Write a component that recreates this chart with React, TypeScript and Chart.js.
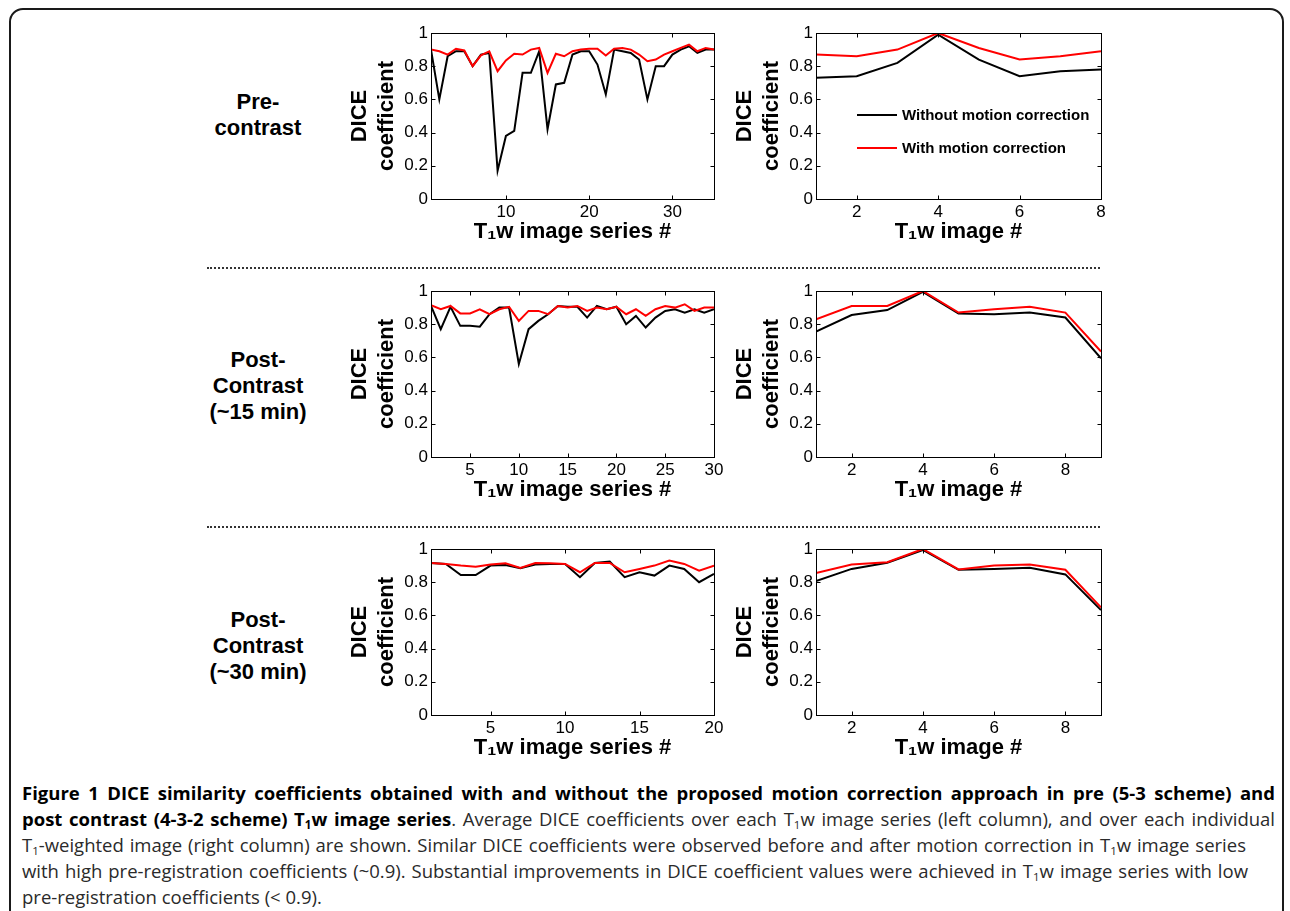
import React, { useEffect, useRef } from 'react';
import { Chart, registerables } from 'chart.js';

Chart.register(...registerables);

// ---------------- data ----------------
const SERIES_LABELS = ['Without motion correction', 'With motion correction'];
const SERIES_COLORS = ['#000000', '#ff0000'];
const Y_TICK_VALUES = [0, 0.2, 0.4, 0.6, 0.8, 1];
const Y_TICK_LABELS = ['0', '0.2', '0.4', '0.6', '0.8', '1'];
const Y_TITLE = ['DICE', 'coefficient'];
const X_TITLE_SERIES = 'T\u2081w image series #';
const X_TITLE_IMAGE = 'T\u2081w image #';

// Pre-contrast, per T1w image series (35 series)
const preSeriesWithout = [
  0.90, 0.60, 0.86, 0.89, 0.89, 0.80, 0.87, 0.88, 0.17, 0.38,
  0.41, 0.76, 0.76, 0.89, 0.42, 0.69, 0.70, 0.87, 0.89, 0.89,
  0.81, 0.63, 0.90, 0.89, 0.88, 0.84, 0.60, 0.80, 0.80, 0.87,
  0.90, 0.92, 0.88, 0.90, 0.90,
];
const preSeriesWith = [
  0.90, 0.89, 0.87, 0.905, 0.895, 0.80, 0.865, 0.89, 0.77, 0.835,
  0.875, 0.87, 0.90, 0.91, 0.76, 0.875, 0.86, 0.89, 0.90, 0.905,
  0.905, 0.865, 0.905, 0.91, 0.90, 0.87, 0.83, 0.84, 0.87, 0.89,
  0.91, 0.93, 0.89, 0.91, 0.90,
];
const preSeriesTicks = [10, 20, 30];

// Pre-contrast, per T1w image (8 images)
const preImageWithout = [0.73, 0.74, 0.82, 0.99, 0.84, 0.74, 0.77, 0.78];
const preImageWith = [0.87, 0.86, 0.90, 1.0, 0.91, 0.84, 0.86, 0.89];
const preImageTicks = [2, 4, 6, 8];

// Post-contrast ~15 min, per series (30 series)
const post15SeriesWithout = [
  0.91, 0.77, 0.905, 0.79, 0.79, 0.785, 0.86, 0.90, 0.90, 0.56,
  0.77, 0.82, 0.86, 0.91, 0.905, 0.905, 0.84, 0.91, 0.89, 0.905,
  0.80, 0.85, 0.78, 0.84, 0.88, 0.89, 0.87, 0.89, 0.87, 0.89,
];
const post15SeriesWith = [
  0.915, 0.89, 0.91, 0.865, 0.865, 0.89, 0.86, 0.89, 0.905, 0.82,
  0.88, 0.88, 0.86, 0.91, 0.90, 0.91, 0.88, 0.90, 0.89, 0.905,
  0.86, 0.89, 0.85, 0.89, 0.91, 0.90, 0.92, 0.88, 0.90, 0.90,
];
const post15SeriesTicks = [5, 10, 15, 20, 25, 30];

// Post-contrast ~15 min, per image (9 images)
const post15ImageWithout = [0.755, 0.855, 0.885, 0.995, 0.865, 0.86, 0.87, 0.84, 0.595];
const post15ImageWith = [0.83, 0.91, 0.91, 1.0, 0.87, 0.89, 0.905, 0.87, 0.635];
const post15ImageTicks = [2, 4, 6, 8];

// Post-contrast ~30 min, per series (20 series)
const post30SeriesWithout = [
  0.915, 0.91, 0.843, 0.843, 0.90, 0.904, 0.884, 0.906, 0.91, 0.91,
  0.83, 0.916, 0.924, 0.83, 0.86, 0.84, 0.90, 0.88, 0.80, 0.85,
];
const post30SeriesWith = [
  0.915, 0.91, 0.90, 0.893, 0.906, 0.914, 0.886, 0.916, 0.914, 0.91,
  0.86, 0.916, 0.916, 0.86, 0.88, 0.90, 0.93, 0.91, 0.87, 0.90,
];
const post30SeriesTicks = [5, 10, 15, 20];

// Post-contrast ~30 min, per image (9 images)
const post30ImageWithout = [0.807, 0.88, 0.917, 0.994, 0.875, 0.88, 0.887, 0.847, 0.632];
const post30ImageWith = [0.855, 0.907, 0.92, 1.0, 0.877, 0.90, 0.907, 0.875, 0.648];
const post30ImageTicks = [2, 4, 6, 8];

const ROW_LABELS = [
  ['Pre-', 'contrast'],
  ['Post-', 'Contrast', '(~15 min)'],
  ['Post-', 'Contrast', '(~30 min)'],
];

// ---------------- layout ----------------
const FONT = '"Liberation Sans", Arial, Helvetica, sans-serif';
const CAPTION_FONT = '"Open Sans", "Noto Sans", sans-serif';
const YW = 92;
const PT = 14;
const PR = 14;
const XH = 52;

const boxPlugin = {
  id: 'matlabBox',
  afterDraw(chart: any) {
    const { ctx, chartArea: a, scales } = chart;
    const xs = scales.x;
    const ys = scales.y;
    const L = 4;
    ctx.save();
    ctx.strokeStyle = '#000';
    ctx.lineWidth = 1;
    const l = Math.round(a.left) + 0.5;
    const t = Math.round(a.top) + 0.5;
    const r = Math.round(a.right) + 0.5;
    const b = Math.round(a.bottom) + 0.5;
    ctx.strokeRect(l, t, r - l, b - t);
    ctx.beginPath();
    xs.ticks.forEach((tk: any) => {
      const px = Math.round(xs.getPixelForValue(tk.value)) + 0.5;
      ctx.moveTo(px, b);
      ctx.lineTo(px, b - L);
      ctx.moveTo(px, t);
      ctx.lineTo(px, t + L);
    });
    ys.ticks.forEach((tk: any) => {
      const py = Math.round(ys.getPixelForValue(tk.value)) + 0.5;
      ctx.moveTo(l, py);
      ctx.lineTo(l + L, py);
      ctx.moveTo(r, py);
      ctx.lineTo(r - L, py);
    });
    ctx.stroke();
    ctx.restore();
  },
};

const insetLegendPlugin = {
  id: 'insetLegend',
  afterDatasetsDraw(chart: any, _args: any, opts: any) {
    if (!opts || !opts.display) return;
    const { ctx, chartArea: a } = chart;
    ctx.save();
    chart.data.datasets.forEach((ds: any, i: number) => {
      const yy = a.top + opts.top + i * opts.gap;
      const x0 = a.left + opts.left;
      ctx.strokeStyle = ds.borderColor;
      ctx.lineWidth = 2;
      ctx.beginPath();
      ctx.moveTo(x0, yy);
      ctx.lineTo(x0 + opts.lineLength, yy);
      ctx.stroke();
      ctx.fillStyle = '#000';
      ctx.font = `bold 15px ${FONT}`;
      ctx.textBaseline = 'middle';
      ctx.textAlign = 'left';
      ctx.fillText(ds.label, x0 + opts.lineLength + opts.textGap, yy + 1);
    });
    ctx.restore();
  },
};

type PlotProps = {
  x: number;
  y: number;
  w: number;
  h: number;
  without: number[];
  withMc: number[];
  xTicks: number[];
  xTitle: string;
  legend?: boolean;
};

function DicePlot({ x, y, w, h, without, withMc, xTicks, xTitle, legend }: PlotProps) {
  const ref = useRef<HTMLCanvasElement>(null);
  useEffect(() => {
    const n = without.length;
    const chart = new Chart(ref.current as HTMLCanvasElement, {
      type: 'line',
      data: {
        datasets: [without, withMc].map((vals, k) => ({
          label: SERIES_LABELS[k],
          data: vals.map((v, i) => ({ x: i + 1, y: v })),
          borderColor: SERIES_COLORS[k],
          backgroundColor: SERIES_COLORS[k],
          borderWidth: 2,
          pointRadius: 0,
          tension: 0,
          fill: false,
          order: k === 1 ? 0 : 1,
        })),
      },
      options: {
        animation: false,
        responsive: false,
        maintainAspectRatio: false,
        events: [],
        layout: { padding: { left: 0, top: PT, right: PR, bottom: 0 } },
        plugins: {
          legend: { display: false },
          tooltip: { enabled: false },
          insetLegend: { display: !!legend, left: 41, top: 82, gap: 33, lineLength: 40, textGap: 5 },
        } as any,
        scales: {
          x: {
            type: 'linear',
            min: 1,
            max: n,
            grid: { display: false, drawTicks: false },
            border: { display: false },
            ticks: {
              autoSkip: false,
              maxRotation: 0,
              padding: 3,
              color: '#000',
              font: { family: FONT, size: 17 },
              callback: (v: any) => String(v),
            },
            afterBuildTicks: (s: any) => {
              s.ticks = xTicks.map((v) => ({ value: v }));
            },
            afterFit: (s: any) => {
              s.height = XH;
              s.paddingLeft = 0;
              s.paddingRight = 0;
            },
            title: {
              display: true,
              text: xTitle,
              color: '#000',
              font: { family: FONT, size: 22, weight: 'bold', lineHeight: 1.2 },
              padding: { top: 0, bottom: 6 },
            },
          },
          y: {
            type: 'linear',
            min: 0,
            max: 1,
            grid: { display: false, drawTicks: false },
            border: { display: false },
            ticks: {
              autoSkip: false,
              padding: 3,
              color: '#000',
              font: { family: FONT, size: 17 },
              callback: (_v: any, i: number) => Y_TICK_LABELS[i],
            },
            afterBuildTicks: (s: any) => {
              s.ticks = Y_TICK_VALUES.map((v) => ({ value: v }));
            },
            afterFit: (s: any) => {
              s.width = YW;
              s.paddingTop = 0;
              s.paddingBottom = 0;
            },
            title: {
              display: true,
              text: Y_TITLE,
              color: '#000',
              font: { family: FONT, size: 22, weight: 'bold', lineHeight: 1.2 },
              padding: { top: 8, bottom: 0 },
            },
          },
        } as any,
      },
      plugins: [boxPlugin, insetLegendPlugin],
    } as any);
    return () => chart.destroy();
  }, []);
  return (
    <canvas
      ref={ref}
      width={YW + w + PR}
      height={PT + h + XH}
      style={{ position: 'absolute', left: x - YW, top: y - PT }}
    />
  );
}

const T1 = () => (
  <>
    T<sub style={{ fontSize: '0.62em', verticalAlign: '-0.25em', lineHeight: 0 }}>1</sub>
  </>
);

export default function App() {
  const rowTops = [33, 291, 549];
  const rowH = 166;
  const colLefts = [431, 816];
  const colW = [283, 285];
  const labelCenters = [115, 386, 646];
  const lineStyle = (top: number, width?: number): React.CSSProperties => ({
    position: 'absolute',
    left: 22,
    top,
    width,
    height: 26,
    lineHeight: '26px',
    fontFamily: CAPTION_FONT,
    fontSize: 18.5,
    color: '#2a2a2a',
    whiteSpace: 'nowrap',
    textAlign: width ? 'justify' : 'left',
    textAlignLast: width ? 'justify' : 'auto',
  } as React.CSSProperties);
  return (
    <div
      style={{
        position: 'absolute',
        left: 0,
        top: 0,
        width: 1290,
        height: 911,
        overflow: 'hidden',
        background: '#fff',
      }}
    >
      <div
        style={{
          position: 'absolute',
          left: 9,
          top: 8,
          width: 1275,
          height: 940,
          border: '2px solid #1a1a1a',
          borderRadius: 14,
          boxSizing: 'border-box',
        }}
      />
      {ROW_LABELS.map((lines, i) => (
        <div
          key={i}
          style={{
            position: 'absolute',
            left: 158,
            width: 200,
            top: labelCenters[i] - (lines.length * 26) / 2,
            textAlign: 'center',
            fontFamily: FONT,
            fontWeight: 'bold',
            fontSize: 22,
            lineHeight: '26px',
            color: '#000',
          }}
        >
          {lines.map((t, j) => (
            <div key={j}>{t}</div>
          ))}
        </div>
      ))}
      {[268, 527].map((yy) => (
        <div
          key={yy}
          style={{
            position: 'absolute',
            left: 207,
            top: yy - 1,
            width: 893,
            height: 0,
            borderTop: '2px dotted #333',
          }}
        />
      ))}
      <DicePlot x={colLefts[0]} y={rowTops[0]} w={colW[0]} h={rowH} without={preSeriesWithout} withMc={preSeriesWith} xTicks={preSeriesTicks} xTitle={X_TITLE_SERIES} />
      <DicePlot x={colLefts[1]} y={rowTops[0]} w={colW[1]} h={rowH} without={preImageWithout} withMc={preImageWith} xTicks={preImageTicks} xTitle={X_TITLE_IMAGE} legend />
      <DicePlot x={colLefts[0]} y={rowTops[1]} w={colW[0]} h={rowH} without={post15SeriesWithout} withMc={post15SeriesWith} xTicks={post15SeriesTicks} xTitle={X_TITLE_SERIES} />
      <DicePlot x={colLefts[1]} y={rowTops[1]} w={colW[1]} h={rowH} without={post15ImageWithout} withMc={post15ImageWith} xTicks={post15ImageTicks} xTitle={X_TITLE_IMAGE} />
      <DicePlot x={colLefts[0]} y={rowTops[2]} w={colW[0]} h={rowH} without={post30SeriesWithout} withMc={post30SeriesWith} xTicks={post30SeriesTicks} xTitle={X_TITLE_SERIES} />
      <DicePlot x={colLefts[1]} y={rowTops[2]} w={colW[1]} h={rowH} without={post30ImageWithout} withMc={post30ImageWith} xTicks={post30ImageTicks} xTitle={X_TITLE_IMAGE} />

      <div style={{ ...lineStyle(780, 1253), fontWeight: 'bold', color: '#000' }}>
        Figure 1 DICE similarity coefficients obtained with and without the proposed motion correction approach in pre (5-3 scheme) and
      </div>
      <div style={lineStyle(806, 1253)}>
        <b style={{ color: '#000' }}>
          post contrast (4-3-2 scheme) <T1 />w image series
        </b>
        . Average DICE coefficients over each <T1 />w image series (left column), and over each individual
      </div>
      <div style={lineStyle(832, 1224)}>
        <T1 />-weighted image (right column) are shown. Similar DICE coefficients were observed before and after motion correction in <T1 />w image series
      </div>
      <div style={lineStyle(858, 1226)}>
        with high pre-registration coefficients (~0.9). Substantial improvements in DICE coefficient values were achieved in <T1 />w image series with low
      </div>
      <div style={lineStyle(884)}>pre-registration coefficients (&lt; 0.9).</div>
    </div>
  );
}
